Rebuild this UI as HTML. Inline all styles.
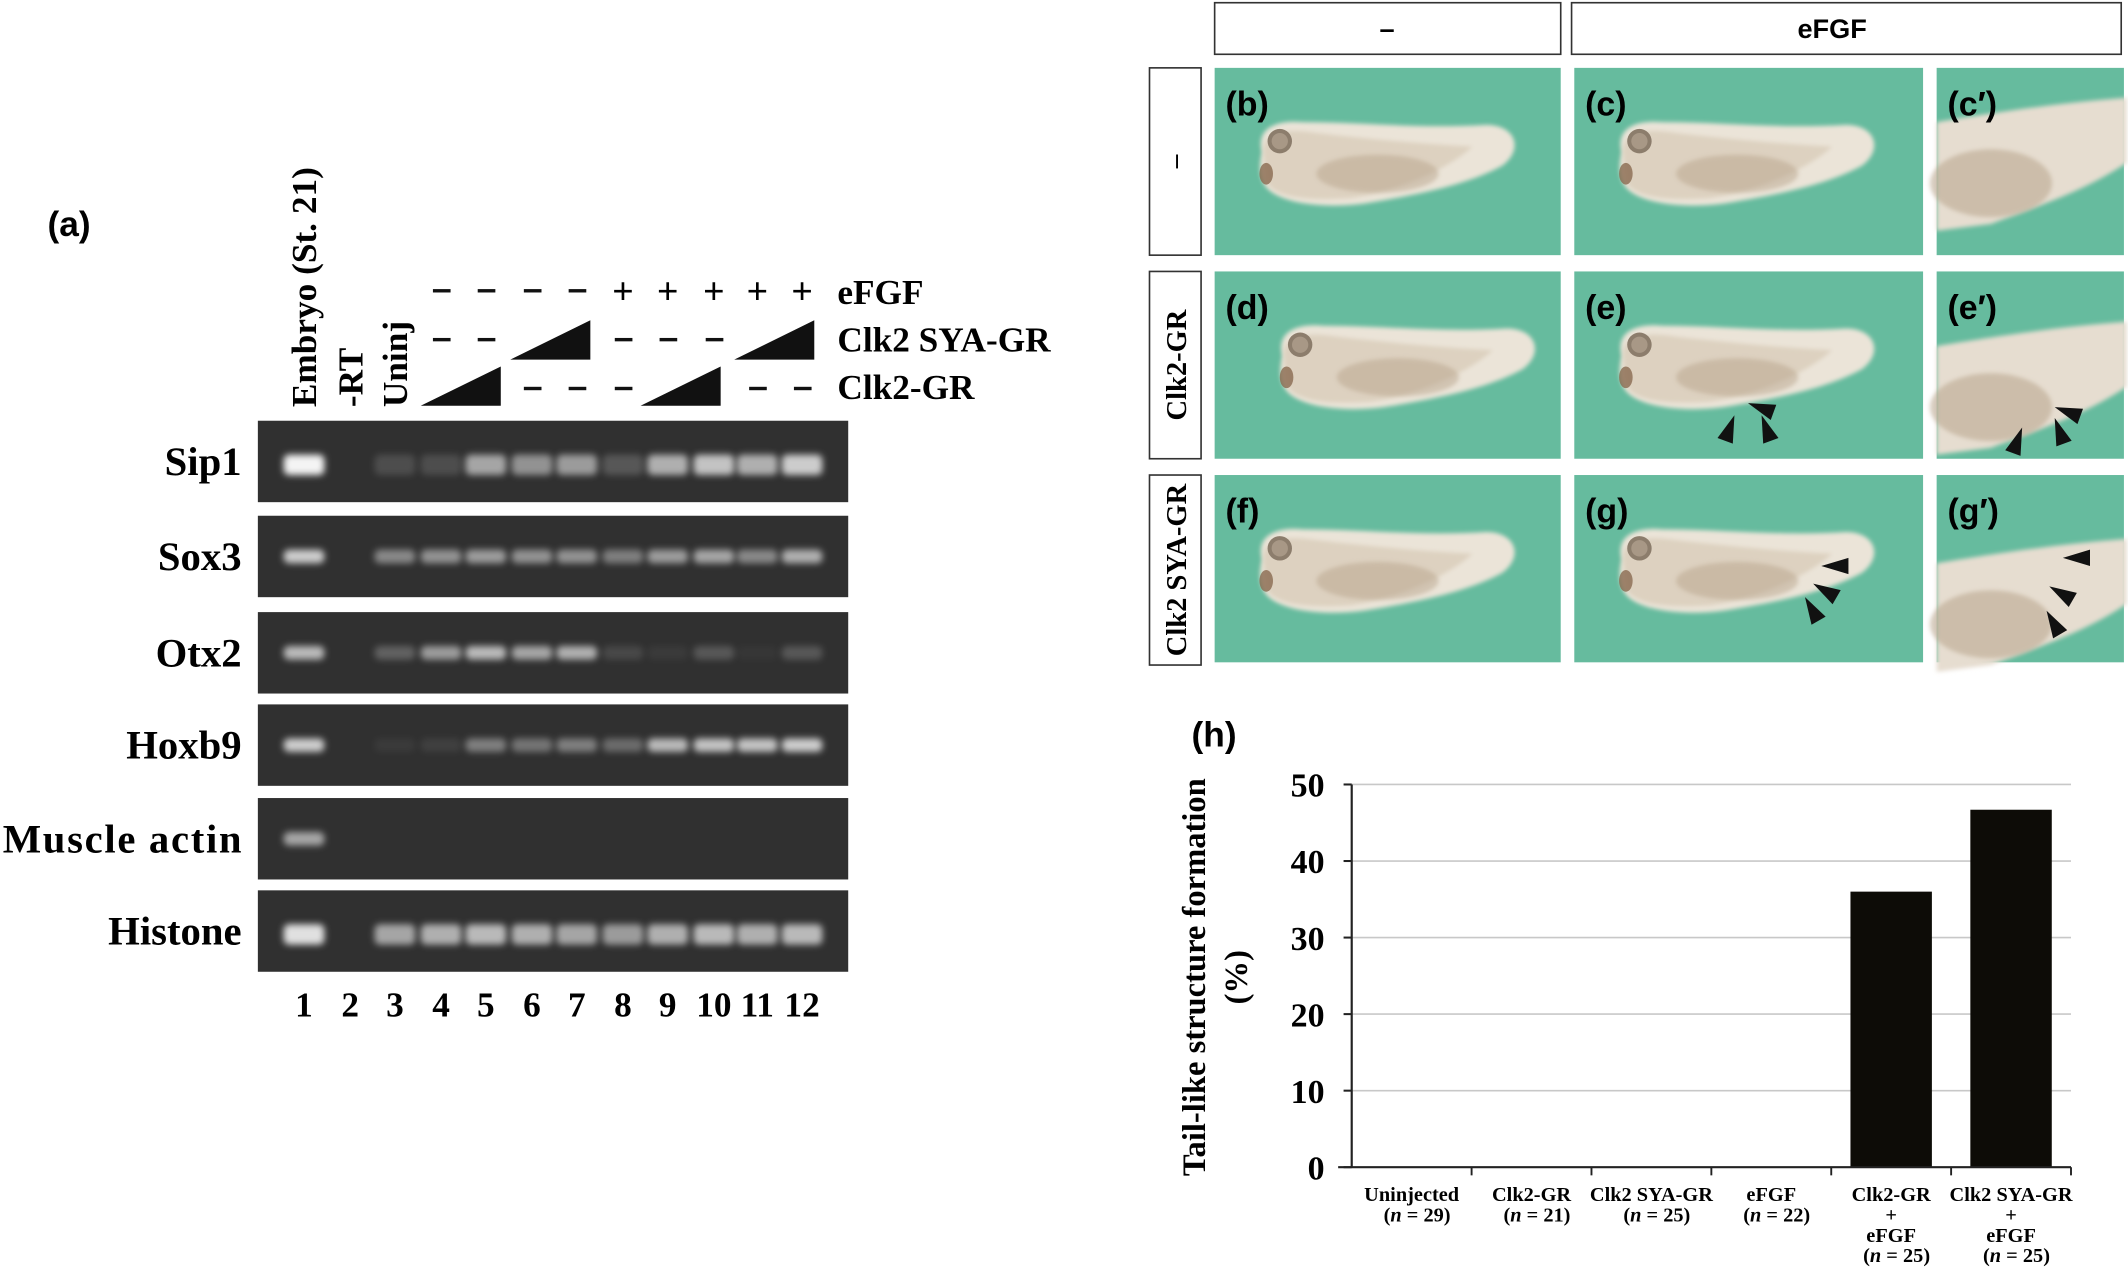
<!DOCTYPE html>
<html><head><meta charset="utf-8"><style>
html,body{margin:0;padding:0;background:#fff;}
svg{display:block;}
.ser{font-family:"Liberation Serif",serif;font-weight:bold;}
.san{font-family:"Liberation Sans",sans-serif;font-weight:bold;}
</style></head><body>
<svg id="fig" width="2128" height="1269" viewBox="0 0 1568 935" preserveAspectRatio="none" xmlns="http://www.w3.org/2000/svg">
<defs>
<filter id="blur" x="-50%" y="-100%" width="200%" height="300%"><feGaussianBlur stdDeviation="2.5"/></filter>
<filter id="soft" x="-20%" y="-20%" width="140%" height="140%"><feGaussianBlur stdDeviation="1.5"/></filter>
<g id="tad">
<path d="M35,62 C30,45 45,38 65,40 C110,40 150,45 200,42 C222,42 228,60 212,72 C190,84 160,92 110,100 C80,104 48,100 38,88 C32,80 33,70 35,62 Z" fill="#ebe4d8" filter="url(#soft)"/>
<path d="M36,64 C34,48 50,44 75,48 C110,52 150,56 190,58 C175,72 140,90 100,96 C70,98 45,96 38,84 Z" fill="#ddd1c0" filter="url(#soft)"/>
<ellipse cx="120" cy="78" rx="45" ry="14" fill="#b8a48c" opacity="0.5" filter="url(#soft)"/>
<circle cx="48" cy="54" r="9" fill="#8c7d6c"/>
<circle cx="48" cy="54" r="6" fill="#a89886"/>
<ellipse cx="38" cy="78" rx="5" ry="8" fill="#8a6a50" opacity="0.8"/>
</g>
<g id="close">
<path d="M0,40 C60,30 100,25 140,22 L140,70 C110,90 80,100 40,115 L0,120 Z" fill="#e6ddd0" filter="url(#soft)"/>
<ellipse cx="40" cy="85" rx="45" ry="25" fill="#b8a48c" opacity="0.55" filter="url(#soft)"/>
</g>
</defs>

<text class="san" x="35" y="174" font-size="26">(a)</text>

<g id="lanehdr">
<text class="ser" font-size="26" transform="translate(233,300) rotate(-90)">Embryo (St. 21)</text>
<text class="ser" font-size="26" transform="translate(267,300) rotate(-90)">-RT</text>
<text class="ser" font-size="26" transform="translate(300,300) rotate(-90)">Uninj</text>
</g>
<g id="cond" class="ser" font-size="26"></g>
<g id="gels"></g>

<rect x="895" y="2" width="255" height="38" fill="#fff" stroke="#333" stroke-width="1.2"/>
<text class="san" x="1022" y="28" font-size="20" text-anchor="middle">–</text>
<rect x="1158" y="2" width="405" height="38" fill="#fff" stroke="#333" stroke-width="1.2"/>
<text class="san" x="1350" y="28" font-size="20" text-anchor="middle">eFGF</text>
<rect x="847" y="50" width="38" height="138" fill="#fff" stroke="#333" stroke-width="1.2"/>
<text class="ser" font-size="20" transform="translate(872,119) rotate(-90)" text-anchor="middle">–</text>
<rect x="847" y="200" width="38" height="138" fill="#fff" stroke="#333" stroke-width="1.2"/>
<text class="ser" font-size="21" transform="translate(874,269) rotate(-90)" text-anchor="middle">Clk2-GR</text>
<rect x="847" y="350" width="38" height="140" fill="#fff" stroke="#333" stroke-width="1.2"/>
<text class="ser" font-size="21" transform="translate(874,420) rotate(-90)" text-anchor="middle">Clk2 SYA-GR</text>
<g id="photos"></g>

<text class="san" x="878" y="550" font-size="26">(h)</text>
<text class="ser" font-size="24" transform="translate(888,720) rotate(-90)" text-anchor="middle">Tail-like structure formation</text>
<text class="ser" font-size="24" transform="translate(919,720) rotate(-90)" text-anchor="middle">(%)</text>
<g id="chart"></g>
</svg>
<script>
const NS="http://www.w3.org/2000/svg";
function mk(p,t,a,txt){const e=document.createElementNS(NS,t);for(const k in a)e.setAttribute(k,a[k]);if(txt!==undefined)e.textContent=txt;p.appendChild(e);return e;}

const categories=[["Uninjected","(n = 29)"],["Clk2-GR","(n = 21)"],["Clk2 SYA-GR","(n = 25)"],["eFGF","(n = 22)"],["Clk2-GR","+","eFGF","(n = 25)"],["Clk2 SYA-GR","+","eFGF","(n = 25)"]];
const values=[0,0,0,0,36,46.7];
const yTicks=[0,10,20,30,40,50];

const chart=document.getElementById('chart');
const X0=996,X1=1526,Y0=860,Y50=578;
const y=v=>Y0-(v/50)*(Y0-Y50);
const bw=(X1-X0)/categories.length;
const xc=i=>X0+bw*(i+0.5);
yTicks.forEach(t=>{
  if(t>0){const g=mk(chart,'line',{x1:X0,x2:X1,y1:y(t),y2:y(t),stroke:'#c8c8c8','stroke-width':1.2});
  
  }
  mk(chart,'line',{x1:X0-6,x2:X0,y1:y(t),y2:y(t),stroke:'#222','stroke-width':1.5});
  const lb=mk(chart,'text',{x:X0-20,y:y(t)+9,'text-anchor':'end','font-size':25,class:'ser'},String(t));
  
  
});
values.forEach((v,i)=>{
  const h=Y0-y(v);
  if(h>0){const r=mk(chart,'rect',{x:xc(i)-30,y:y(v),width:60,height:h,fill:'#0d0c07'});
  
  }
});
mk(chart,'line',{x1:X0,x2:X0,y1:Y50,y2:Y0,stroke:'#222','stroke-width':1.6});
mk(chart,'line',{x1:X0-10,x2:X1,y1:Y0,y2:Y0,stroke:'#222','stroke-width':1.6});
for(let i=1;i<=categories.length;i++){mk(chart,'line',{x1:X0+bw*i,x2:X0+bw*i,y1:Y0,y2:Y0+6,stroke:'#222','stroke-width':1.4});}
categories.forEach((c,i)=>{
  const t=mk(chart,'text',{x:xc(i),y:Y0+25,'text-anchor':'middle','font-size':15,class:'ser'});
  
  
  c.forEach((ln,j)=>{const s=mk(t,'tspan',{x:xc(i)+(ln.startsWith('(')?4:0),dy:j?15:0});
    if(ln.startsWith('(n')){s.textContent='(';mk(s,'tspan',{'font-style':'italic'},'n');s.appendChild(document.createTextNode(ln.slice(2)));}
    else s.textContent=ln;});
});

const genes=["Sip1","Sox3","Otx2","Hoxb9","Muscle actin","Histone"];
const sip1=[1,0,0.15,0.15,0.6,0.5,0.55,0.2,0.65,0.75,0.65,0.8];
const sox3=[0.8,0,0.45,0.5,0.55,0.5,0.5,0.4,0.55,0.6,0.45,0.65];
const otx2=[0.7,0,0.25,0.55,0.7,0.6,0.65,0.12,0.05,0.2,0.03,0.2];
const hoxb9=[0.8,0,0.05,0.08,0.4,0.35,0.4,0.3,0.7,0.75,0.75,0.8];
const actin=[0.6,0,0,0,0,0,0,0,0,0,0,0];
const histone=[0.9,0,0.6,0.65,0.7,0.65,0.6,0.55,0.65,0.7,0.65,0.7];
const bands=[sip1,sox3,otx2,hoxb9,actin,histone];
const rowTops=[310,380,451,519,588,656];
const laneX=[224,258,291,325,358,392,425,459,492,526,558,591];
const gels=document.getElementById('gels');
genes.forEach((g,r)=>{
  const top=rowTops[r];
  const bg=mk(gels,'rect',{x:190,y:top,width:435,height:60,fill:'#303030'});
  
  
  bands[r].forEach((v,l)=>{ if(v>0){
    const b=mk(gels,'rect',{x:laneX[l]-15,y:top+25,width:30,height:r==5||r==0?15:10,rx:4,fill:'#f4f4f4',opacity:v,filter:'url(#blur)'});
    
    }});
  const lb=mk(gels,'text',{x:178,y:top+40,'text-anchor':'end','font-size':30,class:'ser'},g);
  if(g==="Muscle actin")lb.setAttribute('textLength','176');
  
  
});
laneX.forEach((x,i)=>{const t=mk(gels,'text',{x:x,y:749,'text-anchor':'middle','font-size':26,class:'ser'},String(i+1));
  
  });

const cond=document.getElementById('cond');
const efgf=['-','-','-','-','+','+','+','+','+'];
efgf.forEach((s,i)=>{const x=laneX[i+3];
  if(s=='-')mk(cond,'rect',{x:x-6,y:213,width:13,height:2.5,fill:'#111'});
  else mk(cond,'text',{x:x,y:224,'text-anchor':'middle','font-size':28},'+');});
const dash=(x,yy)=>mk(cond,'rect',{x:x-6,y:yy,width:13,height:2.5,fill:'#111'});
[325,358,459,492,526].forEach(x=>dash(x,249));
[392,425,459,558,591].forEach(x=>dash(x,285));
mk(cond,'polygon',{points:'376,265 435,236 435,265',fill:'#111'});
mk(cond,'polygon',{points:'541,265 600,236 600,265',fill:'#111'});
mk(cond,'polygon',{points:'310,299 369,270 369,299',fill:'#111'});
mk(cond,'polygon',{points:'472,299 531,270 531,299',fill:'#111'});
mk(cond,'text',{x:617,y:224},'eFGF');
mk(cond,'text',{x:617,y:259},'Clk2 SYA-GR');
mk(cond,'text',{x:617,y:294},'Clk2-GR');

const photos=document.getElementById('photos');
const cols=[[895,255],[1160,257],[1427,138]];
const rows=[50,200,350];
const labs=[["(b)","(c)","(c′)"],["(d)","(e)","(e′)"],["(f)","(g)","(g′)"]];
rows.forEach((ry,r)=>cols.forEach(([cx,w],c)=>{
  const p=mk(photos,'rect',{x:cx,y:ry,width:w,height:138,fill:'#66bb9e'});
  
  
  if(c<2){const dx=(r==1&&c==0)?15:0;mk(photos,'use',{href:'#tad',transform:`translate(${cx+dx},${ry})`});}
  else mk(photos,'use',{href:'#close',transform:`translate(${cx},${ry+(r==0?0:r==1?15:25)})`});
  mk(photos,'text',{x:cx+8,y:ry+35,'font-size':25,class:'san'},labs[r][c]);
}));
function arrow(x,yy,ang){mk(photos,'polygon',{points:'0,0 -20,-6 -20,6',fill:'#111',transform:`translate(${x},${yy}) rotate(${ang})`});}
arrow(1288,297,200);arrow(1298,306,250);arrow(1278,306,290);
arrow(1514,300,200);arrow(1514,308,250);arrow(1490,315,290);
arrow(1342,417,180);arrow(1336,430,210);arrow(1330,440,240);
arrow(1520,411,180);arrow(1510,432,210);arrow(1508,450,240);
</script>
</body></html>
